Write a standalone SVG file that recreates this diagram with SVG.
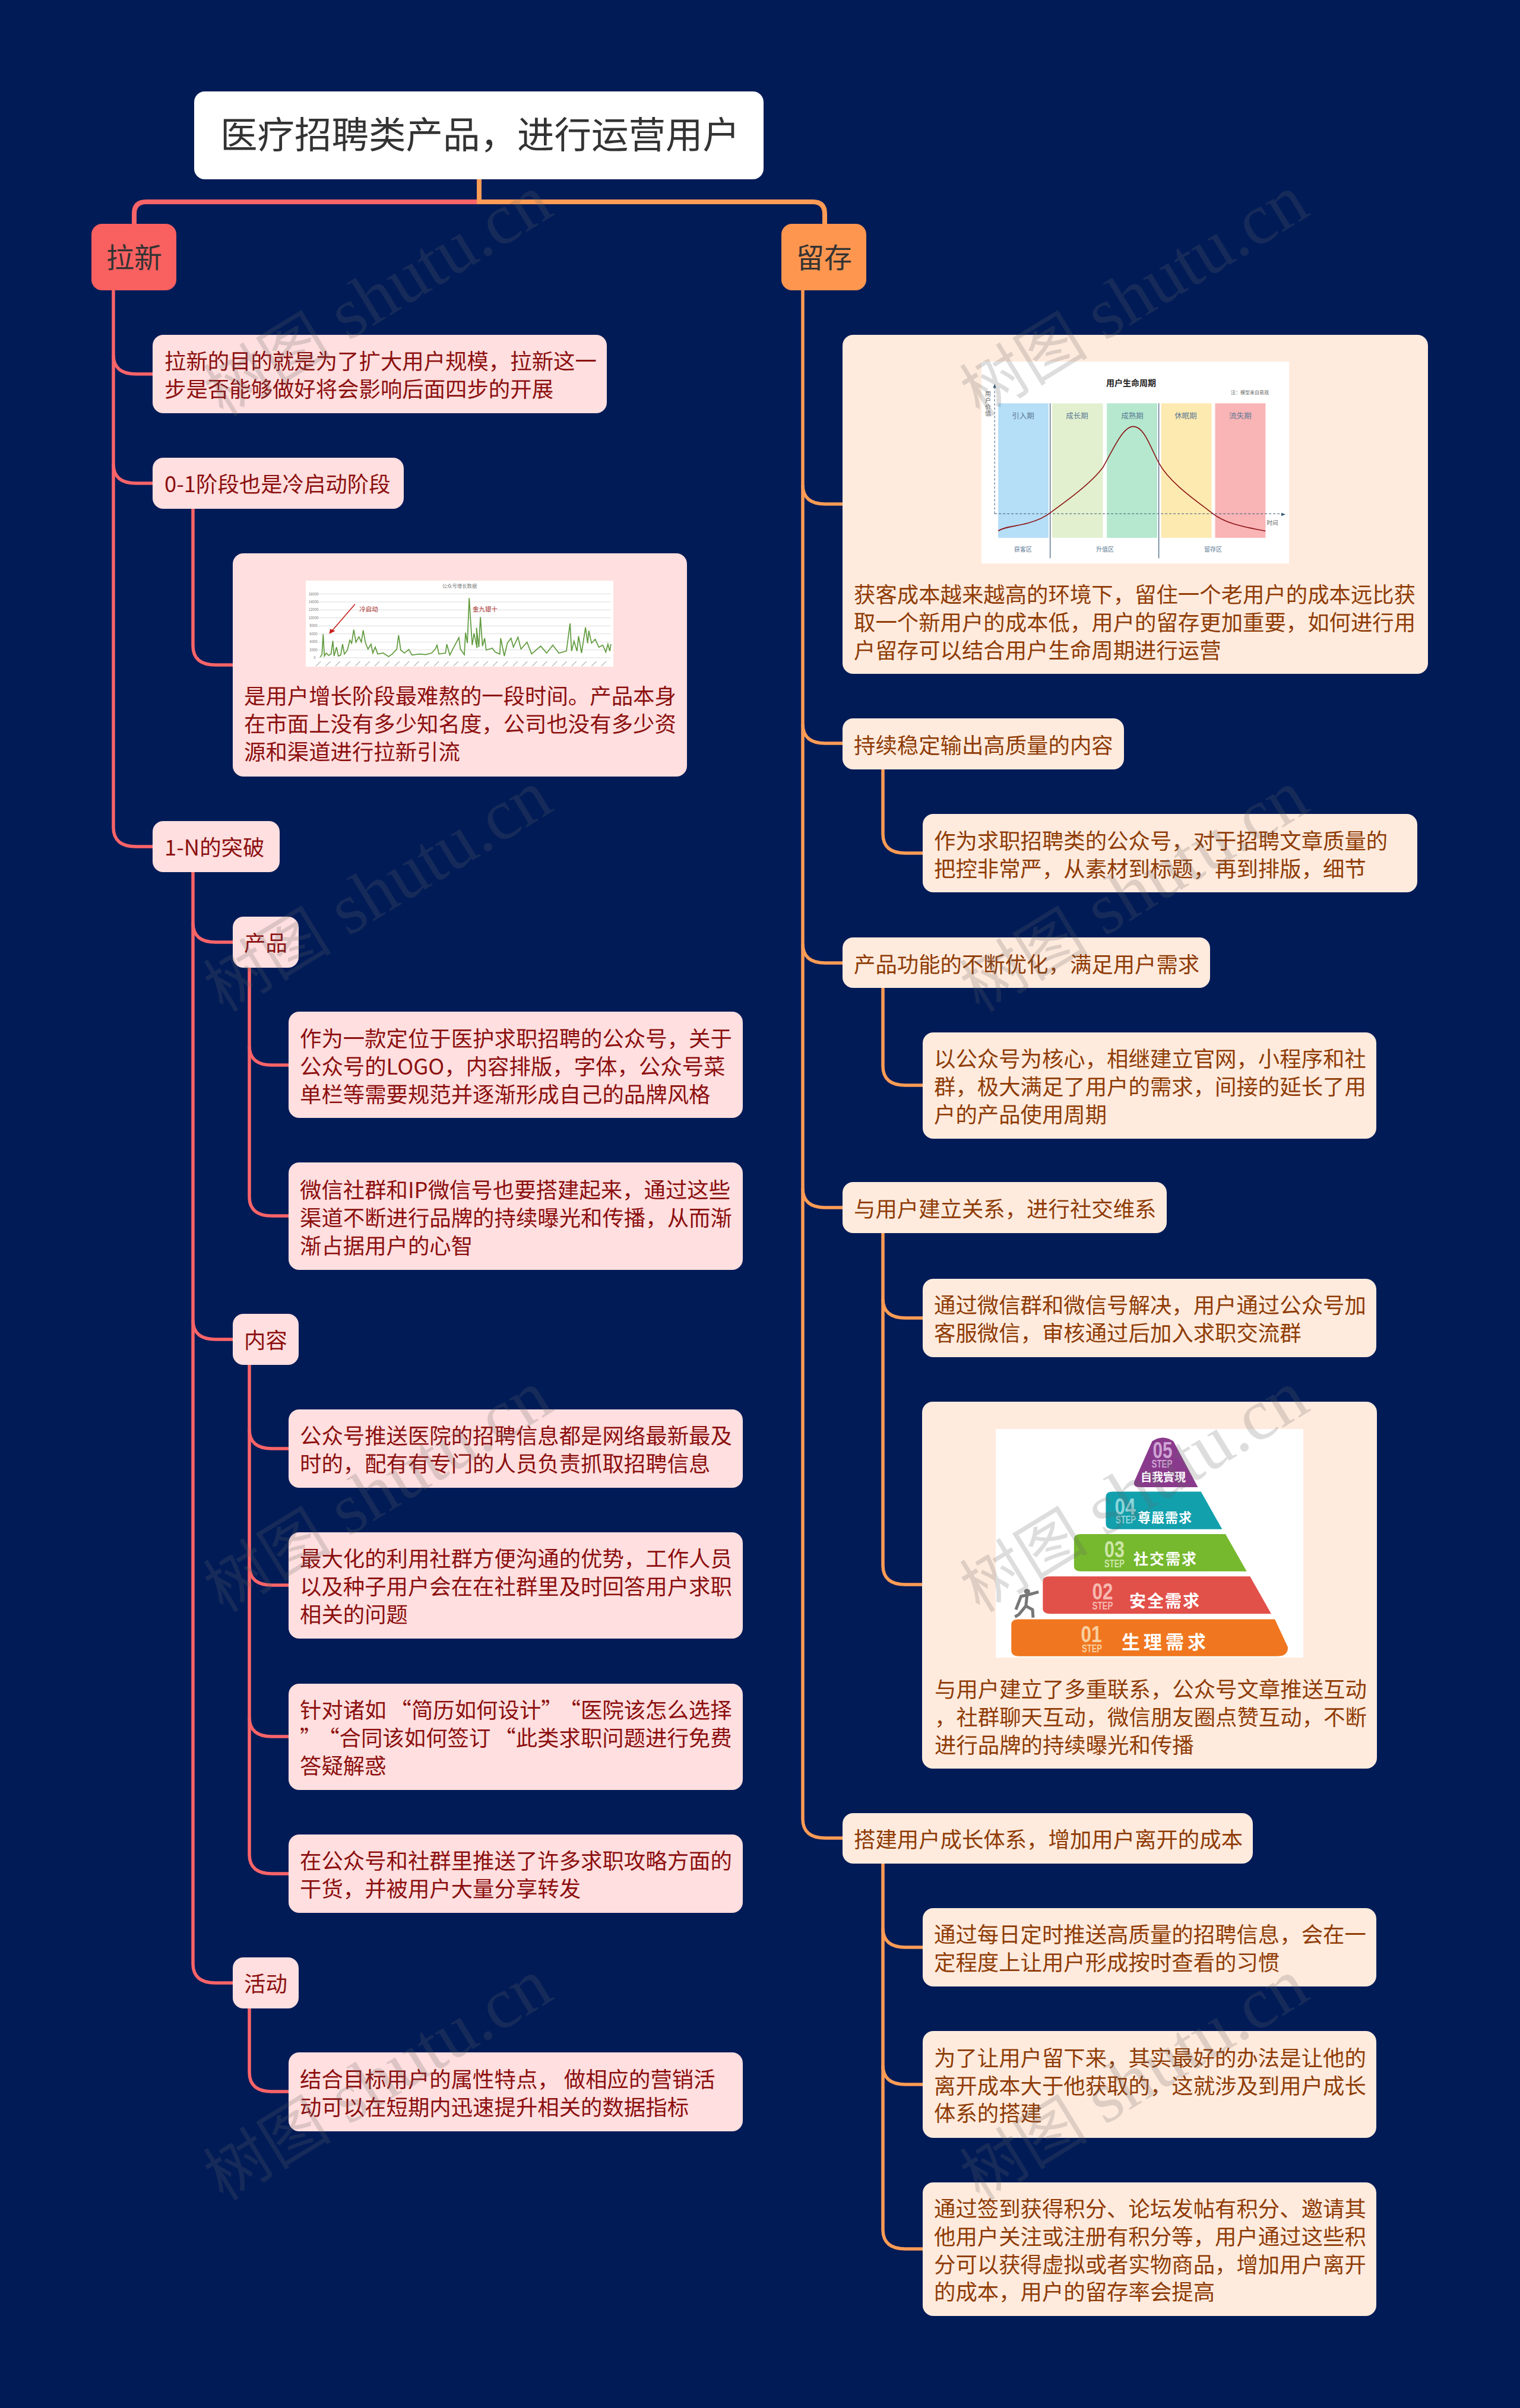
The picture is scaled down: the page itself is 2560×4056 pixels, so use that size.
<svg xmlns="http://www.w3.org/2000/svg" width="2560" height="4056" viewBox="0 0 2560 4056">
<style>
text{font-family:"Noto Sans CJK SC","Liberation Sans",sans-serif}
.bg{fill:#011b57}
.c1{fill:none;stroke:#f96468;stroke-width:8;stroke-linecap:butt}
.c2{fill:none;stroke:#ff9c55;stroke-width:8}
.r{fill:none;stroke:#f96468;stroke-width:5.5}
.o{fill:none;stroke:#ff9c55;stroke-width:5.5}
.pk{fill:#ffdfdf}
.og{fill:#ffebde}
.tr{font-size:36.4px;fill:#8c0f0f;transform:translateY(2px)}
.to{font-size:36.4px;fill:#8f3c06;transform:translateY(2px)}
.top{font-size:47px;fill:#333}
.img{fill:#fff}
.ns{vector-effect:non-scaling-stroke}
.grid{stroke:#dcdcdc;stroke-width:1;fill:none}
.ax{font-size:6px;fill:#777;text-anchor:middle}
.dash{fill:none;stroke:#3c5a78;stroke-width:1;stroke-dasharray:4 3}
.lc{fill:#5c7a94;text-anchor:middle}
.num{font-family:"Liberation Sans",sans-serif;font-weight:700;text-anchor:middle}
.cn{font-weight:700;fill:#fff;text-anchor:middle}
.wm{font-family:"Liberation Serif","Noto Sans CJK SC",serif;font-size:122px;fill:#666;fill-opacity:.22;text-anchor:middle}
.wc{font-size:108px}
</style>
<rect class="bg" x="0" y="0" width="2560" height="4056"/>

<g id="connectors">
<path class="c1" d="M807 340H246Q226 340 226 360V378"/>
<path class="c2" d="M807 340H1369Q1389 340 1389 360V378"/>
<path class="c2" d="M807 300V344"/>
<path class="r" d="M191 487V1394"/>
<path class="r" d="M191 598C191 620 205 630 229 630H258"/>
<path class="r" d="M191 782C191 804 205 814 229 814H258"/>
<path class="r" d="M191 1394C191 1416 205 1426 229 1426H258"/>
<path class="r" d="M325 855V1088C325 1110 339 1120 363 1120H393"/>
<path class="r" d="M325 1467V3308"/>
<path class="r" d="M325 1555C325 1577 339 1587 363 1587H393"/>
<path class="r" d="M325 2224C325 2246 339 2256 363 2256H393"/>
<path class="r" d="M325 3308C325 3330 339 3340 363 3340H393"/>
<path class="r" d="M420 1628V2016"/>
<path class="r" d="M420 1762C420 1784 434 1794 458 1794H487"/>
<path class="r" d="M420 2016C420 2038 434 2048 458 2048H487"/>
<path class="r" d="M420 2297V3124"/>
<path class="r" d="M420 2408C420 2430 434 2440 458 2440H487"/>
<path class="r" d="M420 2638C420 2660 434 2670 458 2670H487"/>
<path class="r" d="M420 2893C420 2915 434 2925 458 2925H487"/>
<path class="r" d="M420 3124C420 3146 434 3156 458 3156H487"/>
<path class="r" d="M420 3381V3491C420 3513 434 3523 458 3523H487"/>
<path class="o" d="M1352 487V3064"/>
<path class="o" d="M1352 817C1352 839 1366 849 1390 849H1420"/>
<path class="o" d="M1352 1220C1352 1242 1366 1252 1390 1252H1420"/>
<path class="o" d="M1352 1590C1352 1612 1366 1622 1390 1622H1420"/>
<path class="o" d="M1352 2002C1352 2024 1366 2034 1390 2034H1420"/>
<path class="o" d="M1352 3064C1352 3086 1366 3096 1390 3096H1420"/>
<path class="o" d="M1487 1294V1405C1487 1427 1501 1437 1525 1437H1555"/>
<path class="o" d="M1487 1662V1796C1487 1818 1501 1828 1525 1828H1555"/>
<path class="o" d="M1487 2075V2637C1487 2659 1501 2669 1525 2669H1555"/>
<path class="o" d="M1487 2188C1487 2210 1501 2220 1525 2220H1555"/>
<path class="o" d="M1487 3137V3756C1487 3778 1501 3788 1525 3788H1555"/>
<path class="o" d="M1487 3248C1487 3270 1501 3280 1525 3280H1555"/>
<path class="o" d="M1487 3479C1487 3501 1501 3511 1525 3511H1555"/>
</g>

<g id="root"><rect x="327" y="154" width="959" height="148" rx="18" fill="#fff"/><text x="371" y="250" font-size="62.5" fill="#333">医疗招聘类产品，进行运营用户</text></g>
<g id="n-laxin"><rect x="154" y="377" width="143" height="112" rx="18" fill="#f96060"/><text x="179" y="451" class="top">拉新</text></g>
<g id="n-liucun"><rect x="1316" y="377" width="143" height="112" rx="18" fill="#ff9650"/><text x="1341" y="451" class="top">留存</text></g>

<g id="l1"><rect class="pk" x="257" y="564" width="765" height="132" rx="18"/><text class="tr"><tspan x="277" y="620">拉新的目的就是为了扩大用户规模，拉新这一</tspan><tspan x="277" y="667">步是否能够做好将会影响后面四步的开展</tspan></text></g>
<g id="l2"><rect class="pk" x="257" y="771" width="423" height="86" rx="18"/><text class="tr" x="277" y="827">0-1阶段也是冷启动阶段</text></g>

<g id="l2a"><rect class="pk" x="392" y="932" width="765" height="376" rx="18"/>
<rect class="img" x="515" y="978" width="518" height="145"/>
<g transform="translate(380 920) scale(.5102 .3333)">
<path class="grid ns" d="M305 241H1272M305 282H1272M305 322H1272M305 362H1272M305 403H1272M305 443H1272M305 484H1272M305 524H1272M305 564H1272"/>
<path class="ns" fill="none" stroke="#5f9a3c" stroke-width="1.7" d="M312 560L318 548L322 445L326 555L332 540L340 552L348 545L354 478L358 555L366 510L372 555L380 550L386 495L392 545L402 525L410 475L416 490L423 422L430 485L440 458L448 485L454 425L462 490L470 520L480 495L486 540L494 510L502 545L520 540L538 558L550 545L565 520L571 450L578 525L590 540L605 522L615 550L640 545L660 548L680 540L692 520L698 500L704 545L726 540L730 495L740 550L750 520L770 462L775 520L788 548L792 437L798 490L804 262L808 360L814 500L820 440L830 515L828 412L836 510L841 358L848 505L855 465L860 525L880 515L890 535L905 545L908 465L920 555L930 490L942 465L950 510L965 460L975 520L995 485L1010 545L1040 505L1060 540L1080 500L1100 540L1125 530L1137 390L1142 530L1150 480L1160 530L1165 455L1175 540L1188 410L1195 490L1199 427L1208 490L1220 470L1232 510L1245 500L1255 535L1262 495L1268 530L1272 495"/>
<path class="ns" fill="none" stroke="#c8201c" stroke-width="1.6" d="M427 293L350 430"/>
<path fill="#c8201c" d="M342 443L345 418L362 428Z"/>
<path class="ns" fill="none" stroke="#bdbdbd" stroke-width="1.5" d="M298 606L314 582M330 606L346 582M362 606L378 582M395 606L411 582M428 606L444 582M460 606L476 582M492 606L508 582M525 606L541 582M558 606L574 582M590 606L606 582M622 606L638 582M655 606L671 582M688 606L704 582M720 606L736 582M752 606L768 582M785 606L801 582M818 606L834 582M850 606L866 582M882 606L898 582M915 606L931 582M948 606L964 582M980 606L996 582M1012 606L1028 582M1045 606L1061 582M1078 606L1094 582M1110 606L1126 582M1142 606L1158 582M1175 606L1191 582M1208 606L1224 582M1240 606L1256 582"/>
</g>
<text x="774" y="990" font-size="8.4" fill="#777" text-anchor="middle">公众号增长数据</text>
<text class="ax" x="528" y="1003">16000</text><text class="ax" x="528" y="1016">14000</text><text class="ax" x="528" y="1029">12000</text><text class="ax" x="528" y="1043">10000</text><text class="ax" x="528" y="1056">8000</text><text class="ax" x="528" y="1070">6000</text><text class="ax" x="528" y="1083">4000</text><text class="ax" x="528" y="1097">2000</text><text class="ax" x="530" y="1110">0</text>
<text x="621" y="1030" font-size="10.5" fill="#a5302a" text-anchor="middle">冷启动</text>
<text x="817" y="1030" font-size="10.5" fill="#a5302a" text-anchor="middle">金九银十</text>
<text class="tr"><tspan x="411" y="1184">是用户增长阶段最难熬的一段时间。产品本身</tspan><tspan x="411" y="1231">在市面上没有多少知名度，公司也没有多少资</tspan><tspan x="411" y="1278">源和渠道进行拉新引流</tspan></text></g>

<g id="l3"><rect class="pk" x="257" y="1383" width="214" height="86" rx="18"/><text class="tr" x="277" y="1439">1-N的突破</text></g>
<g id="l3a"><rect class="pk" x="392" y="1544" width="111" height="86" rx="18"/><text class="tr" x="411" y="1600">产品</text></g>
<g id="l3a1"><rect class="pk" x="486" y="1704" width="765" height="179" rx="18"/><text class="tr"><tspan x="505" y="1761">作为一款定位于医护求职招聘的公众号，关于</tspan><tspan x="505" y="1808">公众号的LOGO，内容排版，字体，公众号菜</tspan><tspan x="505" y="1855">单栏等需要规范并逐渐形成自己的品牌风格</tspan></text></g>
<g id="l3a2"><rect class="pk" x="486" y="1958" width="765" height="181" rx="18"/><text class="tr"><tspan x="505" y="2016">微信社群和IP微信号也要搭建起来，通过这些</tspan><tspan x="505" y="2063">渠道不断进行品牌的持续曝光和传播，从而渐</tspan><tspan x="505" y="2110">渐占据用户的心智</tspan></text></g>
<g id="l3b"><rect class="pk" x="392" y="2213" width="111" height="86" rx="18"/><text class="tr" x="411" y="2269">内容</text></g>
<g id="l3b1"><rect class="pk" x="486" y="2374" width="765" height="132" rx="18"/><text class="tr"><tspan x="505" y="2430">公众号推送医院的招聘信息都是网络最新最及</tspan><tspan x="505" y="2477">时的，配有有专门的人员负责抓取招聘信息</tspan></text></g>
<g id="l3b2"><rect class="pk" x="486" y="2581" width="765" height="179" rx="18"/><text class="tr"><tspan x="505" y="2637">最大化的利用社群方便沟通的优势，工作人员</tspan><tspan x="505" y="2684">以及种子用户会在在社群里及时回答用户求职</tspan><tspan x="505" y="2731">相关的问题</tspan></text></g>
<g id="l3b3"><rect class="pk" x="486" y="2836" width="765" height="179" rx="18"/><text class="tr"><tspan x="505" y="2892">针对诸如</tspan><tspan dx="6">“简历如何设计”</tspan><tspan dx="12">“医院该怎么选择</tspan><tspan x="505" y="2939">”</tspan><tspan dx="12">“合同该如何签订</tspan><tspan dx="6">“此类求职问题进行免费</tspan><tspan x="505" y="2986">答疑解惑</tspan></text></g>
<g id="l3b4"><rect class="pk" x="486" y="3090" width="765" height="132" rx="18"/><text class="tr"><tspan x="505" y="3146">在公众号和社群里推送了许多求职攻略方面的</tspan><tspan x="505" y="3193">干货，并被用户大量分享转发</tspan></text></g>
<g id="l3c"><rect class="pk" x="392" y="3297" width="111" height="86" rx="18"/><text class="tr" x="411" y="3353">活动</text></g>
<g id="l3c1"><rect class="pk" x="486" y="3457" width="765" height="133" rx="18"/><text class="tr"><tspan x="505" y="3514">结合目标用户的属性特点， 做相应的营销活</tspan><tspan x="505" y="3561">动可以在短期内迅速提升相关的数据指标</tspan></text></g>

<g id="r1"><rect class="og" x="1419" y="564" width="986" height="571" rx="18"/>
<rect class="img" x="1653" y="609" width="518" height="340"/>
<g transform="translate(1400 550) scale(.6631 .3827)">
<rect x="424" y="338" width="128" height="592" fill="#b5def7"/>
<rect x="561" y="338" width="129" height="592" fill="#e2f0cf"/>
<rect x="700" y="338" width="128" height="592" fill="#b5e8cf"/>
<rect x="838" y="338" width="128" height="592" fill="#fdeab0"/>
<rect x="975" y="338" width="128" height="592" fill="#f9b4b6"/>
<path class="ns" fill="none" stroke="#3c5a78" stroke-width="1.2" d="M556 338V1020M832 338V1020"/>
<path class="dash ns" d="M415 824V262M415 824H1148"/>
<path fill="#3c5a78" d="M415 252L411 270H419ZM1154 827L1143 820V834Z"/>
<path class="ns" fill="none" stroke="#8c1414" stroke-width="1.6" d="M424 900C440 880 470 880 500 865C530 850 545 835 556 820C600 765 660 690 690 620C715 545 740 440 767 440C795 440 810 530 832 600C860 690 930 770 968 822C1000 865 1040 880 1103 900"/>
</g>
<text x="1905" y="650" font-size="14" font-weight="700" fill="#222" text-anchor="middle">用户生命周期</text>
<text x="2105" y="664" font-size="8" fill="#666" text-anchor="middle">注：模型来自易观</text>
<text font-size="10" fill="#666" text-anchor="middle"><tspan x="1664" y="667">用</tspan><tspan x="1664" y="678">户</tspan><tspan x="1664" y="689">价</tspan><tspan x="1664" y="700">值</tspan></text>
<text class="lc" font-size="12.5" x="1723" y="705">引入期</text><text class="lc" font-size="12.5" x="1814" y="705">成长期</text><text class="lc" font-size="12.5" x="1907" y="705">成熟期</text><text class="lc" font-size="12.5" x="1997" y="705">休眠期</text><text class="lc" font-size="12.5" x="2089" y="705">流失期</text>
<text x="2143" y="884" font-size="9.5" fill="#666" text-anchor="middle">时间</text>
<text class="lc" font-size="10" x="1723" y="929">获客区</text><text class="lc" font-size="10" x="1861" y="929">升值区</text><text class="lc" font-size="10" x="2043" y="929">留存区</text>
<text class="to"><tspan x="1438" y="1013">获客成本越来越高的环境下，留住一个老用户的成本远比获</tspan><tspan x="1438" y="1060">取一个新用户的成本低，用户的留存更加重要，如何进行用</tspan><tspan x="1438" y="1107">户留存可以结合用户生命周期进行运营</tspan></text></g>

<g id="r2"><rect class="og" x="1419" y="1210" width="474" height="86" rx="18"/><text class="to" x="1438" y="1267">持续稳定输出高质量的内容</text></g>
<g id="r2a"><rect class="og" x="1554" y="1371" width="833" height="132" rx="18"/><text class="to"><tspan x="1573" y="1428">作为求职招聘类的公众号，对于招聘文章质量的</tspan><tspan x="1573" y="1475">把控非常严，从素材到标题，再到排版，细节</tspan></text></g>
<g id="r3"><rect class="og" x="1419" y="1579" width="619" height="85" rx="18"/><text class="to" x="1438" y="1636">产品功能的不断优化，满足用户需求</text></g>
<g id="r3a"><rect class="og" x="1554" y="1739" width="764" height="179" rx="18"/><text class="to"><tspan x="1573" y="1795">以公众号为核心，相继建立官网，小程序和社</tspan><tspan x="1573" y="1842">群，极大满足了用户的需求，间接的延长了用</tspan><tspan x="1573" y="1889">户的产品使用周期</tspan></text></g>
<g id="r4"><rect class="og" x="1419" y="1991" width="546" height="86" rx="18"/><text class="to" x="1438" y="2048">与用户建立关系，进行社交维系</text></g>
<g id="r4a"><rect class="og" x="1554" y="2154" width="764" height="132" rx="18"/><text class="to"><tspan x="1573" y="2210">通过微信群和微信号解决，用户通过公众号加</tspan><tspan x="1573" y="2257">客服微信，审核通过后加入求职交流群</tspan></text></g>

<g id="r4b"><rect class="og" x="1553" y="2361" width="766" height="618" rx="18"/>
<rect class="img" x="1677" y="2407" width="518" height="385"/>
<g transform="translate(1540 2350) scale(.5102 .4082)">
<path fill="#8a3a8c" d="M785 190Q820 160 855 190L936 380H745Q715 380 730 345Z"/>
<path fill="#12a0ad" d="M632 420Q632 398 655 398H946L1016 553H655Q632 553 632 530Z"/>
<path fill="#76b82e" d="M527 595Q527 573 550 573H1027L1097 727H550Q527 727 527 705Z"/>
<path fill="#e2504a" d="M424 770Q424 748 447 748H1108L1178 902H450Q424 902 424 880Z"/>
<path fill="#f07720" d="M320 947Q320 925 345 925H1190L1233 1040Q1233 1077 1200 1077H345Q320 1077 320 1052Z"/>
<ellipse cx="372" cy="810" rx="10" ry="11" fill="#777"/>
<path class="ns" fill="none" stroke="#777" stroke-width="5" stroke-linejoin="round" d="M335 885L352 830L372 825L410 812M372 825L368 870L390 885L392 918M368 870L345 905L332 915"/>
</g>
<text class="num" x="1958" y="2456" font-size="38" fill="#cfa3d6" textLength="33" lengthAdjust="spacingAndGlyphs">05</text>
<text class="num" x="1957" y="2472" font-size="19" fill="#cfa3d6" textLength="35" lengthAdjust="spacingAndGlyphs">STEP</text>
<text class="cn" x="1959" y="2495" font-size="19">自我實現</text>
<text class="num" x="1895" y="2551" font-size="38" fill="#8fd6dc" textLength="35" lengthAdjust="spacingAndGlyphs">04</text>
<text class="num" x="1896" y="2566" font-size="19" fill="#8fd6dc" textLength="34" lengthAdjust="spacingAndGlyphs">STEP</text>
<text class="cn" x="1962" y="2564" font-size="22" letter-spacing="1">尊嚴需求</text>
<text class="num" x="1877" y="2623" font-size="38" fill="#cde6a8" textLength="34" lengthAdjust="spacingAndGlyphs">03</text>
<text class="num" x="1877" y="2640" font-size="19" fill="#cde6a8" textLength="34" lengthAdjust="spacingAndGlyphs">STEP</text>
<text class="cn" x="1963" y="2635" font-size="25" letter-spacing="2">社交需求</text>
<text class="num" x="1857" y="2694" font-size="38" fill="#f6b8b0" textLength="35" lengthAdjust="spacingAndGlyphs">02</text>
<text class="num" x="1857" y="2711" font-size="19" fill="#f6b8b0" textLength="35" lengthAdjust="spacingAndGlyphs">STEP</text>
<text class="cn" x="1962" y="2707" font-size="28" letter-spacing="2">安全需求</text>
<text class="num" x="1838" y="2766" font-size="38" fill="#f9cfa0" textLength="35" lengthAdjust="spacingAndGlyphs">01</text>
<text class="num" x="1839" y="2783" font-size="19" fill="#f9cfa0" textLength="34" lengthAdjust="spacingAndGlyphs">STEP</text>
<text class="cn" x="1963" y="2777" font-size="31" letter-spacing="6">生理需求</text>
<text class="to"><tspan x="1574" y="2857">与用户建立了多重联系，公众号文章推送互动</tspan><tspan x="1574" y="2904">，社群聊天互动，微信朋友圈点赞互动，不断</tspan><tspan x="1574" y="2951">进行品牌的持续曝光和传播</tspan></text></g>

<g id="r5"><rect class="og" x="1419" y="3054" width="691" height="85" rx="18"/><text class="to" x="1438" y="3110">搭建用户成长体系，增加用户离开的成本</text></g>
<g id="r5a"><rect class="og" x="1554" y="3214" width="764" height="132" rx="18"/><text class="to"><tspan x="1573" y="3270">通过每日定时推送高质量的招聘信息，会在一</tspan><tspan x="1573" y="3317">定程度上让用户形成按时查看的习惯</tspan></text></g>
<g id="r5b"><rect class="og" x="1554" y="3421" width="764" height="180" rx="18"/><text class="to"><tspan x="1573" y="3478">为了让用户留下来，其实最好的办法是让他的</tspan><tspan x="1573" y="3525">离开成本大于他获取的，这就涉及到用户成长</tspan><tspan x="1573" y="3571">体系的搭建</tspan></text></g>
<g id="r5c"><rect class="og" x="1554" y="3676" width="764" height="225" rx="18"/><text class="to"><tspan x="1573" y="3732">通过签到获得积分、论坛发帖有积分、邀请其</tspan><tspan x="1573" y="3779">他用户关注或注册有积分等，用户通过这些积</tspan><tspan x="1573" y="3826">分可以获得虚拟或者实物商品，增加用户离开</tspan><tspan x="1573" y="3872">的成本，用户的留存率会提高</tspan></text></g>

<g id="watermarks">
<text class="wm" transform="translate(656 532) rotate(-31.5)"><tspan class="wc">树图</tspan> shutu.cn</text>
<text class="wm" transform="translate(1930 532) rotate(-31.5)"><tspan class="wc">树图</tspan> shutu.cn</text>
<text class="wm" transform="translate(656 1535) rotate(-31.5)"><tspan class="wc">树图</tspan> shutu.cn</text>
<text class="wm" transform="translate(1930 1535) rotate(-31.5)"><tspan class="wc">树图</tspan> shutu.cn</text>
<text class="wm" transform="translate(656 2546) rotate(-31.5)"><tspan class="wc">树图</tspan> shutu.cn</text>
<text class="wm" transform="translate(1930 2546) rotate(-31.5)"><tspan class="wc">树图</tspan> shutu.cn</text>
<text class="wm" transform="translate(656 3537) rotate(-31.5)"><tspan class="wc">树图</tspan> shutu.cn</text>
<text class="wm" transform="translate(1930 3537) rotate(-31.5)"><tspan class="wc">树图</tspan> shutu.cn</text>
</g>
</svg>
